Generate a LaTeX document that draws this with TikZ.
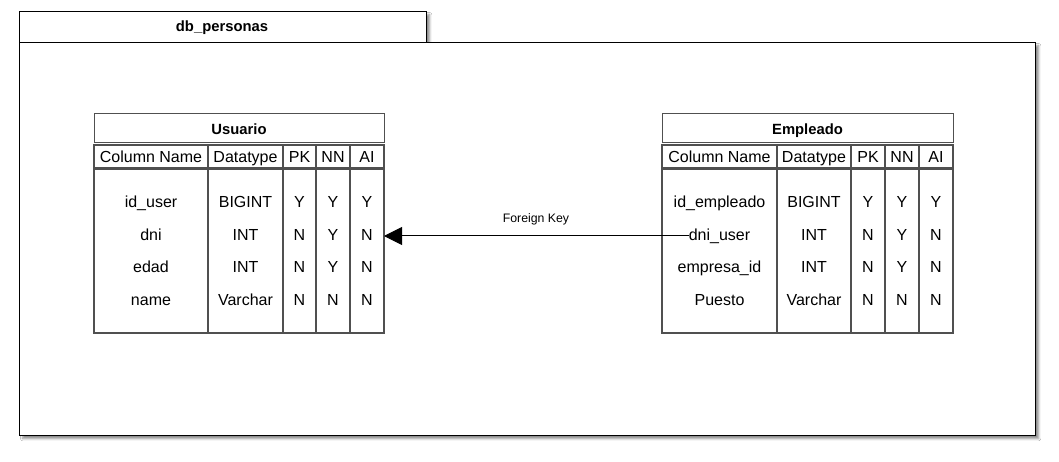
\documentclass[tikz,border=0pt]{standalone}
\usepackage{fontspec}
\setmainfont{Liberation Sans}
\usetikzlibrary{arrows.meta,shadows.blur}
\definecolor{bordergray}{HTML}{505050}
\tikzset{
  frame/.style={draw=black, line width=1.3pt, fill=white,
    blur shadow={shadow xshift=3pt, shadow yshift=-3pt, shadow blur steps=6, shadow opacity=45}},
  cell/.style={draw=bordergray, line width=1.7pt, fill=white, inner sep=0pt, outer sep=0pt, anchor=north west},
  titlecell/.style={draw=bordergray, line width=1pt, fill=white, inner sep=0pt, outer sep=0pt, anchor=north west},
  body/.style={font=\fontsize{16}{18}\selectfont, inner sep=0pt, anchor=base},
  head/.style={font=\fontsize{16}{18}\selectfont, inner sep=0pt, anchor=base},
  ttl/.style={font=\fontsize{14.8}{18}\selectfont\bfseries, inner sep=0pt, anchor=base},
  fklabel/.style={font=\fontsize{12.3}{14}\selectfont, inner sep=0pt, anchor=base},
  fkarrow/.style={draw=black, line width=1pt, -{Triangle[length=18pt,width=18pt]}}
}
\begin{document}
\begin{tikzpicture}[x=1pt,y=-1pt]
\useasboundingbox (0,0) rectangle (1059,462);
\fill[white] (0,0) rectangle (1059,462);
% container
\node[frame, minimum width=407pt, minimum height=31pt, inner sep=0pt, anchor=north west] (tab) at (19,11) {};
\node[frame, minimum width=1016pt, minimum height=393pt, inner sep=0pt, anchor=north west] (cont) at (19,42) {};
\node[ttl] (tabtitle) at (222,32) {db\_personas};

% ---------- Usuario ----------
\node[titlecell, minimum width=290pt, minimum height=29pt] (u-title) at (94,114) {};
\node[ttl] (u-titletext) at (239,135) {Usuario};
\foreach \i/\xa/\xb in {1/94/208, 2/208/283, 3/283/316, 4/316/350, 5/350/384}{
  \pgfmathsetmacro{\w}{\xb-\xa}
  \node[cell, minimum width=\w pt, minimum height=23pt] (u-h-\i) at (\xa,145) {};
  \node[cell, minimum width=\w pt, minimum height=164pt] (u-b-\i) at (\xa,169) {};
}
\foreach \i/\x/\t in {1/151/Column Name, 2/245.5/Datatype, 3/299.5/PK, 4/333/NN, 5/367/AI}{
  \node[head] (u-ht-\i) at (\x,162.5) {\t};
}
\foreach \r/\y/\a/\b/\c/\d/\e in {1/207.5/id\_user/BIGINT/Y/Y/Y, 2/240.5/dni/INT/N/Y/N, 3/272.5/edad/INT/N/Y/N, 4/305.5/name/Varchar/N/N/N}{
  \node[body] (u-r\r-1) at (151,\y) {\a};
  \node[body] (u-r\r-2) at (245.5,\y) {\b};
  \node[body] (u-r\r-3) at (299.5,\y) {\c};
  \node[body] (u-r\r-4) at (333,\y) {\d};
  \node[body] (u-r\r-5) at (367,\y) {\e};
}

% ---------- Empleado ----------
\node[titlecell, minimum width=291pt, minimum height=29pt] (e-title) at (662,114) {};
\node[ttl] (e-titletext) at (807.5,135) {Empleado};
\foreach \i/\xa/\xb in {1/662/777, 2/777/851, 3/851/885, 4/885/919, 5/919/953}{
  \pgfmathsetmacro{\w}{\xb-\xa}
  \node[cell, minimum width=\w pt, minimum height=23pt] (e-h-\i) at (\xa,145) {};
  \node[cell, minimum width=\w pt, minimum height=164pt] (e-b-\i) at (\xa,169) {};
}
\foreach \i/\x/\t in {1/719.5/Column Name, 2/814/Datatype, 3/868/PK, 4/902/NN, 5/936/AI}{
  \node[head] (e-ht-\i) at (\x,162.5) {\t};
}
\foreach \r/\y/\a/\b/\c/\d/\e in {1/207.5/id\_empleado/BIGINT/Y/Y/Y, 2/240.5/dni\_user/INT/N/Y/N, 3/272.5/empresa\_id/INT/N/Y/N, 4/305.5/Puesto/Varchar/N/N/N}{
  \node[body] (e-r\r-1) at (719.5,\y) {\a};
  \node[body] (e-r\r-2) at (814,\y) {\b};
  \node[body] (e-r\r-3) at (868,\y) {\c};
  \node[body] (e-r\r-4) at (902,\y) {\d};
  \node[body] (e-r\r-5) at (936,\y) {\e};
}

% ---------- Foreign key ----------
\coordinate (fk) at (e-r2-1.west |- 0,236);
\draw[fkarrow] (fk) -- (u-b-5.east |- fk);
\node[fklabel] (fkl) at (536,223) {Foreign Key};
\end{tikzpicture}
\end{document}
